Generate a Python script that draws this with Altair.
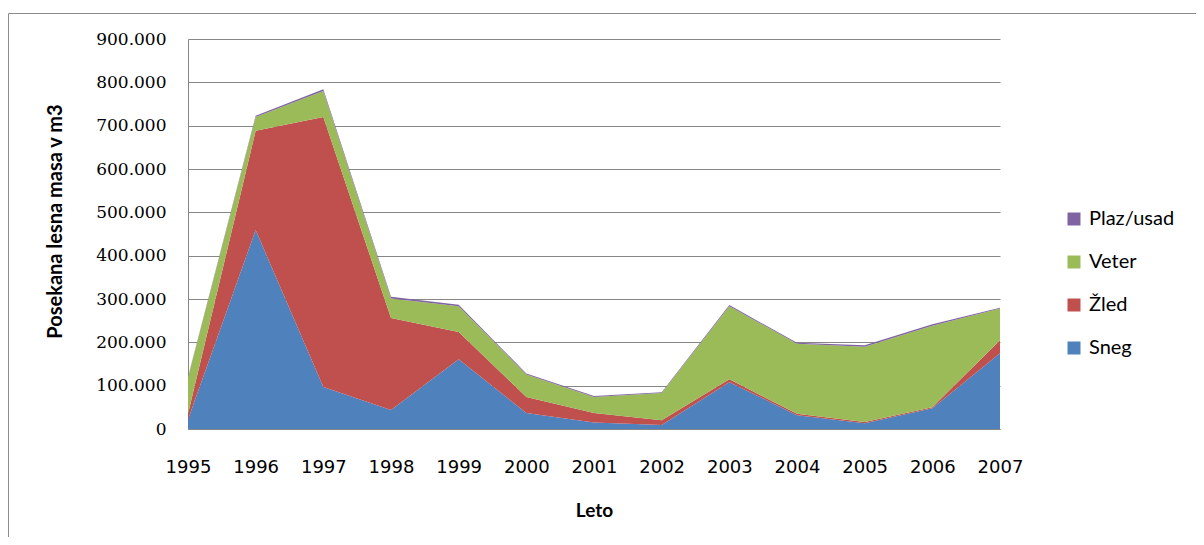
import altair as alt
import pandas as pd

years = [1995, 1996, 1997, 1998, 1999, 2000, 2001, 2002, 2003, 2004, 2005, 2006, 2007]
sneg = [22000, 459000, 97000, 44000, 161000, 37000, 15000, 9000, 108000, 32000, 13000, 48000, 175000]
zled = [13000, 229000, 623000, 212000, 63000, 37000, 22000, 11000, 7000, 3000, 3000, 2000, 30000]
veter = [83000, 32000, 60000, 45000, 59000, 52000, 37000, 63000, 168000, 162000, 174000, 188000, 73000]
plaz = [2000, 3000, 4000, 4000, 4000, 2000, 2000, 2000, 3000, 2000, 3000, 4000, 2000]

series_names = ["Sneg", "Žled", "Veter", "Plaz/usad"]
series_values = [sneg, zled, veter, plaz]
legend_order = ["Plaz/usad", "Veter", "Žled", "Sneg"]
legend_colors = ["#8064A2", "#9BBB59", "#C0504D", "#4F81BD"]

rows = []
for k, (name, vals) in enumerate(zip(series_names, series_values)):
    for yr, v in zip(years, vals):
        rows.append({"Leto": yr, "Vrsta": name, "value": v, "ord": k})
df = pd.DataFrame(rows)

W, H = 812, 390
PL, PT = 180, 31
PR = 1188 - PL - W
PB = 529 - PT - H

areas = alt.Chart(df).mark_area(opacity=1).encode(
    x=alt.X("Leto:Q",
            scale=alt.Scale(domain=[1995, 2007], nice=False, zero=False),
            axis=alt.Axis(values=years, format="d", title="Leto",
                          grid=False, ticks=False, labelPadding=29,
                          labelFlush=False, labelOverlap=False,
                          labelFont="DejaVu Sans", labelFontSize=18,
                          labelColor="#000000",
                          titleFont="Lato", titleFontSize=19, titleFontWeight="bold",
                          titleColor="#000000", titlePadding=25,
                          domainColor="#868686", domainWidth=1)),
    y=alt.Y("value:Q", stack="zero",
            scale=alt.Scale(domain=[0, 900000], nice=False),
            axis=alt.Axis(values=[0, 100000, 200000, 300000, 400000, 500000,
                                  600000, 700000, 800000, 900000],
                          labelExpr="replace(format(datum.value, ','), ',', '.')",
                          title="Posekana lesna masa v m3",
                          grid=True, gridColor="#868686", gridWidth=1,
                          ticks=False, labelPadding=22,
                          labelFont="DejaVu Serif", labelFontSize=17,
                          labelColor="#000000",
                          titleFont="Lato", titleFontSize=20, titleFontWeight="bold",
                          titleColor="#000000", titlePadding=30, titleY=182,
                          domainColor="#868686", domainWidth=1)),
    color=alt.Color("Vrsta:N",
                    scale=alt.Scale(domain=legend_order, range=legend_colors),
                    legend=alt.Legend(title=None, orient="none",
                                      legendX=876, legendY=170,
                                      symbolType="square", symbolSize=169,
                                      symbolStrokeWidth=0,
                                      labelFont="Lato", labelFontSize=20,
                                      labelColor="#000000",
                                      labelOffset=5, rowPadding=23)),
    order=alt.Order("ord:Q"),
)

frame = alt.Chart(alt.Data(values=[{"a": 1}])).mark_rect(
    fill=None, stroke="#8c8c8c", strokeWidth=1
).encode(
    x=alt.value(-179.5), x2=alt.value(1100),
    y=alt.value(-25.5), y2=alt.value(700),
)

chart = alt.layer(frame, areas).properties(
    width=W, height=H,
    padding={"left": PL, "top": PT, "right": PR, "bottom": PB},
    autosize=alt.AutoSizeParams(type="none"),
    background="white",
).configure_view(stroke=None)

chart.save("out.html", embed_options={"renderer": "svg", "actions": False})
